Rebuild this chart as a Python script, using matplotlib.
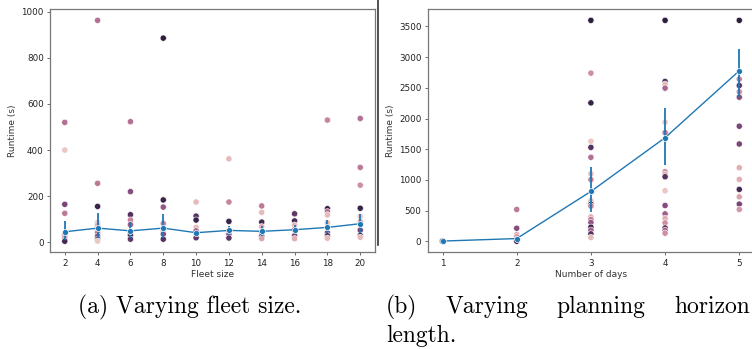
import matplotlib
matplotlib.use("Agg")
import matplotlib.pyplot as plt
from matplotlib.lines import Line2D
import seaborn as sns

# --- (a) runtime vs fleet size: individual runs (x, runtime, hue) ---
fleet_x = (
    [2] * 8 + [4] * 10 + [6] * 8 + [8] * 7 + [10] * 7
    + [12] * 6 + [14] * 7 + [16] * 6 + [18] * 8 + [20] * 9
)
fleet_runtime = [
    520, 400, 165, 126, 35, 28, 20, 5,
    962, 256, 156, 85, 75, 55, 42, 27, 14, 6,
    523, 220, 120, 97, 77, 45, 32, 14,
    885, 184, 153, 82, 50, 36, 14,
    175, 114, 97, 65, 50, 35, 20,
    362, 175, 91, 50, 35, 19,
    158, 130, 88, 68, 45, 27, 17,
    124, 93, 75, 55, 29, 16,
    530, 146, 133, 119, 85, 42, 29, 18,
    537, 325, 248, 148, 113, 90, 53, 30, 22,
]
fleet_hue = [
    .45, .05, .7, .4, .3, .6, .2, .9,
    .45, .4, .95, .1, .15, .3, .4, .65, .85, .05,
    .45, .65, .85, .35, .55, .5, .9, .8,
    1.0, .95, .6, .35, .2, .65, .85,
    .1, .85, .95, .1, .5, .3, .8,
    .1, .35, .95, .3, .6, .8,
    .4, .1, .9, .15, .5, .8, .2,
    .8, .9, .1, .4, .7, .15,
    .35, .95, .45, .1, .1, .65, .85, .1,
    .45, .4, .3, .95, .05, .2, .7, .9, .1,
]
fleet_sizes = [2, 4, 6, 8, 10, 12, 14, 16, 18, 20]
fleet_mean = [46, 62, 50, 62, 42, 52, 48, 55, 65, 81]
fleet_lo = [10, 18, 18, 18, 32, 32, 27, 40, 39, 39]
fleet_hi = [93, 129, 90, 122, 55, 70, 71, 75, 97, 123]

# --- (b) runtime vs number of days ---
days_x = [1] * 4 + [2] * 7 + [3] * 18 + [4] * 17 + [5] * 13
days_runtime = [
    8, 3, 1, 0,
    518, 212, 109, 70, 30, 10, 0,
    3600, 2740, 2255, 1630, 1530, 1368, 1100, 1005, 659, 605, 572, 397, 354, 305, 229, 180, 120, 61,
    3600, 2603, 2560, 2495, 1940, 1770, 1133, 1090, 1051, 822, 583, 446, 371, 299, 217, 175, 131,
    3600, 2642, 2538, 2435, 2348, 1875, 1585, 1198, 1008, 845, 724, 605, 518,
]
days_hue = [
    .05, .3, .6, .9,
    .4, .65, .15, .3, .5, .1, .9,
    1.0, .3, .95, .05, .85, .45, .1, .35, .1, .8, .35, .15, .4, .6, .95, .55, .85, .1,
    1.0, .9, .1, .5, .05, .4, .3, .2, .85, .05, .65, .55, .15, .3, .8, .5, .3,
    1.0, .35, .8, .3, .65, .7, .7, .15, .15, .9, .2, .7, .25,
]
days = [1, 2, 3, 4, 5]
days_mean = [3, 44, 812, 1688, 2778]
days_lo = [0, 20, 469, 1242, 2358]
days_hi = [6, 70, 1214, 2168, 3132]

W, H = 752, 349
fig = plt.figure(figsize=(W / 100, H / 100), dpi=100)
cmap = sns.color_palette("ch:", as_cmap=True)
blue = "#1f77b4"


def panel(rect, xs, ys, hues, lx, lm, llo, lhi, xticks, yticks, xlabel):
    ax = fig.add_axes(rect)
    ax.scatter(xs, ys, c=hues, cmap=cmap, vmin=0, vmax=1, s=20,
               edgecolors="white", linewidths=0.4, zorder=2)
    yerr = [[m - lo for m, lo in zip(lm, llo)], [hi - m for m, hi in zip(lm, lhi)]]
    ax.errorbar(lx, lm, yerr=yerr, color=blue, lw=1.0, elinewidth=1.3,
                marker="o", ms=4.3, mec="white", mew=0.5, capsize=0, zorder=3)
    ax.set_xticks(xticks)
    ax.set_yticks(yticks)
    ax.set_xlabel(xlabel, fontsize=6.5, labelpad=2, color="#333333")
    ax.set_ylabel("Runtime (s)", fontsize=6.5, labelpad=3, color="#333333")
    ax.tick_params(labelsize=6.3, length=2.5, width=0.6, pad=2,
                   colors="#555555", labelcolor="#222222")
    for sp in ax.spines.values():
        sp.set_color("#777777")
        sp.set_linewidth(0.9)
    ax.margins(x=0.05, y=0.05)
    return ax


bot = (H - 252.3) / H
hgt = 243 / H
panel([50 / W, bot, 325 / W, hgt], fleet_x, fleet_runtime, fleet_hue,
      fleet_sizes, fleet_mean, fleet_lo, fleet_hi,
      fleet_sizes, range(0, 1001, 200), "Fleet size")
panel([427.7 / W, bot, 326.4 / W, hgt], days_x, days_runtime, days_hue,
      days, days_mean, days_lo, days_hi,
      days, range(0, 3501, 500), "Number of days")

# border of the cropped left image
fig.add_artist(Line2D([377.5 / W, 377.5 / W], [(H - 245) / H, (H - 0) / H],
                      transform=fig.transFigure, color="#333333", lw=1.2))

cap = dict(fontfamily="cmr10", fontsize=17, color="black", va="baseline")
fig.text(190 / W, (H - 313) / H, "(a) Varying fleet size.", ha="center", **cap)
for x0, word in [(386, "(b)"), (446, "Varying"), (556, "planning"), (674, "horizon")]:
    fig.text(x0 / W, (H - 313) / H, word, ha="left", **cap)
fig.text(386 / W, (H - 342) / H, "length.", ha="left", **cap)

fig.savefig("out.png", dpi=100)
